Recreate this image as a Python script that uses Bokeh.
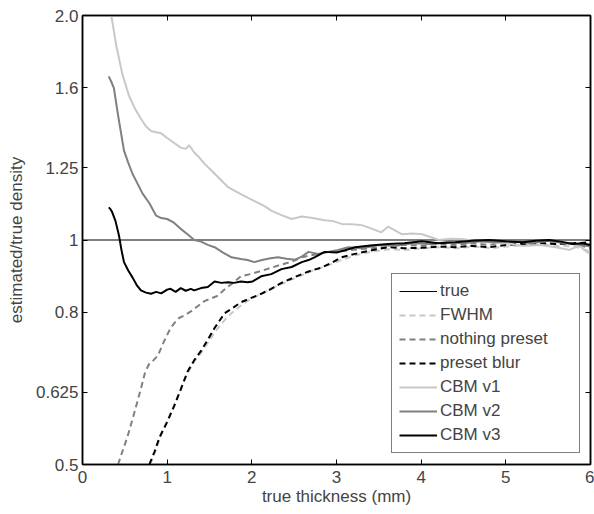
from bokeh.plotting import figure
from bokeh.models import (FixedTicker, LinearAxis, LogAxis, Legend, LegendItem, Range1d)
from bokeh.embed import file_html
from bokeh.resources import INLINE

# ---------------- data ----------------
y_ticks = [0.5, 0.625, 0.8, 1, 1.25, 1.6, 2.0]
y_tick_labels = ["0.5", "0.625", "0.8", "1", "1.25", "1.6", "2.0"]
x_ticks = [0, 1, 2, 3, 4, 5, 6]

true_x = [0, 6]
true_y = [1, 1]

fwhm_x = [0.80, 0.86, 0.92, 1.00, 1.08, 1.16, 1.24, 1.32, 1.40, 1.48, 1.56, 1.64, 1.72, 1.80, 1.90, 2.00,
          2.12, 2.24, 2.36, 2.48, 2.60, 2.72, 2.84, 2.96, 3.08, 3.24, 3.42, 3.62, 3.82, 4.02, 4.22, 4.42,
          4.62, 4.82, 5.02, 5.22, 5.42, 5.62, 5.82, 6.0]
fwhm_y = [0.50, 0.52, 0.545, 0.572, 0.60, 0.632, 0.662, 0.688, 0.705, 0.728, 0.752, 0.772, 0.79, 0.805,
          0.822, 0.835, 0.848, 0.862, 0.874, 0.886, 0.898, 0.91, 0.92, 0.93, 0.942, 0.955, 0.965, 0.972,
          0.97, 0.975, 0.978, 0.975, 0.98, 0.975, 0.98, 0.985, 0.985, 0.982, 0.98, 0.965]

nothing_x = [0.42, 0.47, 0.53, 0.60, 0.69, 0.74, 0.79, 0.84, 0.89, 0.96, 1.04, 1.09, 1.14, 1.20, 1.28, 1.36,
             1.44, 1.52, 1.60, 1.66, 1.72, 1.80, 1.87, 1.98, 2.11, 2.23, 2.35, 2.47, 2.59, 2.72, 2.86, 3.00,
             3.20, 3.40, 3.60, 3.80, 4.00, 4.20, 4.40, 4.60, 4.80, 5.00, 5.20, 5.40, 5.60, 5.80, 6.0]
nothing_y = [0.50, 0.52, 0.544, 0.58, 0.632, 0.665, 0.683, 0.69, 0.70, 0.73, 0.762, 0.775, 0.786, 0.792,
             0.802, 0.815, 0.828, 0.835, 0.842, 0.855, 0.866, 0.88, 0.894, 0.90, 0.909, 0.918, 0.927, 0.935,
             0.948, 0.955, 0.962, 0.965, 0.97, 0.975, 0.978, 0.985, 0.982, 0.988, 0.985, 0.99, 0.985, 0.995,
             0.99, 0.995, 0.988, 0.99, 0.975]

blur_x = [0.79, 0.85, 0.91, 1.00, 1.08, 1.16, 1.24, 1.32, 1.40, 1.48, 1.56, 1.62, 1.68, 1.77, 1.87, 1.98,
          2.11, 2.23, 2.35, 2.47, 2.59, 2.70, 2.82, 2.94, 3.06, 3.22, 3.40, 3.61, 3.80, 4.01, 4.20, 4.40,
          4.60, 4.80, 5.00, 5.20, 5.40, 5.60, 5.80, 6.0]
blur_y = [0.50, 0.52, 0.544, 0.57, 0.598, 0.63, 0.666, 0.69, 0.71, 0.735, 0.762, 0.78, 0.798, 0.81, 0.825,
          0.835, 0.847, 0.86, 0.876, 0.888, 0.90, 0.91, 0.918, 0.932, 0.948, 0.958, 0.968, 0.978, 0.975,
          0.976, 0.98, 0.978, 0.982, 0.978, 0.985, 0.988, 0.99, 0.988, 0.99, 0.993]

v1_x = [0.34, 0.40, 0.47, 0.55, 0.62, 0.69, 0.75, 0.81, 0.87, 0.93, 1.00, 1.08, 1.16, 1.22, 1.26, 1.32, 1.38,
        1.44, 1.52, 1.60, 1.72, 1.82, 1.95, 2.05, 2.15, 2.23, 2.35, 2.47, 2.59, 2.72, 2.86, 2.96, 3.06, 3.18,
        3.30, 3.42, 3.53, 3.61, 3.69, 3.77, 3.90, 4.01, 4.10, 4.21, 4.35, 4.48, 4.62, 4.80, 5.00, 5.20, 5.40,
        5.59, 5.75, 5.87, 5.95, 6.0]
v1_y = [2.0, 1.82, 1.67, 1.56, 1.50, 1.454, 1.42, 1.40, 1.395, 1.39, 1.37, 1.35, 1.33, 1.325, 1.34, 1.31,
        1.29, 1.266, 1.24, 1.215, 1.177, 1.16, 1.14, 1.125, 1.11, 1.095, 1.08, 1.067, 1.075, 1.07, 1.063, 1.06,
        1.051, 1.05, 1.047, 1.035, 1.024, 1.042, 1.03, 1.018, 1.02, 1.018, 1.01, 1.0, 1.004, 1.003, 0.998,
        0.993, 0.99, 0.982, 0.985, 0.978, 0.97, 0.982, 0.965, 0.958]

v2_x = [0.31, 0.34, 0.37, 0.42, 0.49, 0.54, 0.59, 0.65, 0.71, 0.79, 0.87, 0.93, 1.00, 1.08, 1.16, 1.24, 1.32,
        1.40, 1.48, 1.56, 1.66, 1.76, 1.87, 1.95, 2.03, 2.12, 2.22, 2.31, 2.41, 2.51, 2.59, 2.67, 2.78, 2.90,
        3.02, 3.14, 3.30, 3.50, 3.70, 3.90, 4.10, 4.30, 4.50, 4.70, 4.90, 5.10, 5.30, 5.50, 5.70, 5.90, 6.0]
v2_y = [1.657, 1.63, 1.60, 1.47, 1.318, 1.27, 1.227, 1.19, 1.154, 1.12, 1.078, 1.07, 1.067, 1.055, 1.035,
        1.018, 1.0, 0.995, 0.985, 0.978, 0.962, 0.948, 0.943, 0.94, 0.934, 0.94, 0.945, 0.948, 0.944, 0.941,
        0.95, 0.964, 0.958, 0.964, 0.97, 0.978, 0.975, 0.985, 0.982, 0.99, 0.988, 0.993, 0.99, 0.996, 0.993,
        0.996, 0.99, 0.998, 0.99, 0.985, 0.98]

v3_x = [0.31, 0.33, 0.35, 0.39, 0.43, 0.46, 0.49, 0.54, 0.59, 0.64, 0.69, 0.75, 0.81, 0.87, 0.93, 1.00, 1.04,
        1.10, 1.16, 1.22, 1.28, 1.32, 1.40, 1.48, 1.56, 1.64, 1.72, 1.79, 1.87, 1.95, 2.01, 2.11, 2.23, 2.35,
        2.47, 2.59, 2.67, 2.74, 2.86, 3.00, 3.10, 3.22, 3.40, 3.61, 3.80, 4.01, 4.20, 4.40, 4.60, 4.80, 5.00,
        5.20, 5.35, 5.51, 5.65, 5.79, 5.90, 6.0]
v3_y = [1.106, 1.10, 1.09, 1.06, 1.015, 0.97, 0.934, 0.91, 0.891, 0.87, 0.856, 0.85, 0.847, 0.852, 0.848,
        0.858, 0.86, 0.852, 0.862, 0.855, 0.86, 0.856, 0.862, 0.865, 0.88, 0.876, 0.878, 0.876, 0.88, 0.878,
        0.88, 0.894, 0.90, 0.914, 0.92, 0.934, 0.94, 0.948, 0.964, 0.962, 0.969, 0.978, 0.983, 0.988, 0.99,
        0.996, 0.99, 0.993, 0.998, 1.0, 0.996, 0.993, 0.998, 1.0, 0.995, 0.988, 0.99, 0.985]

# ---------------- figure ----------------
FONT = "Liberation Sans"
FS = "17px"
LIGHT = "#c8c8c8"
MID = "#808080"

p = figure(width=594, height=514, y_axis_type="log",
           x_range=Range1d(0, 6), y_range=Range1d(0.5, 2.0),
           output_backend="svg", toolbar_location=None,
           min_border_left=82, min_border_right=4, min_border_top=15, min_border_bottom=50)
p.xgrid.visible = False
p.ygrid.visible = False
p.outline_line_color = "black"
p.outline_line_width = 1.5
p.background_fill_color = "white"
p.border_fill_color = "white"

label_over = {v: s for v, s in zip(y_ticks, y_tick_labels)}

for ax in p.xaxis:
    ax.ticker = FixedTicker(ticks=x_ticks)
    ax.axis_label = "true thickness (mm)"
    ax.major_label_standoff = 6
    ax.axis_label_standoff = 1
for ax in p.yaxis:
    ax.ticker = FixedTicker(ticks=y_ticks)
    ax.major_label_overrides = label_over
    ax.axis_label = "estimated/true density"
    ax.major_label_standoff = 4
    ax.axis_label_standoff = 7

for ax in list(p.xaxis) + list(p.yaxis):
    ax.axis_label_text_font = FONT
    ax.axis_label_text_font_size = FS
    ax.axis_label_text_font_style = "normal"
    ax.major_label_text_font = FONT
    ax.major_label_text_font_size = FS
    ax.major_tick_in = 5
    ax.major_tick_out = 0
    ax.minor_tick_line_color = None
    ax.axis_line_color = "black"
    ax.axis_line_width = 1.5
    ax.major_tick_line_color = "black"

top_ax = LinearAxis(ticker=FixedTicker(ticks=x_ticks),
                    major_label_overrides={t: "" for t in x_ticks},
                    major_tick_in=5, major_tick_out=0, minor_tick_line_color=None,
                    major_label_standoff=0, axis_line_width=1.5)
right_ax = LogAxis(ticker=FixedTicker(ticks=y_ticks),
                   major_label_overrides={t: "" for t in y_ticks},
                   major_tick_in=5, major_tick_out=0, minor_tick_line_color=None,
                   major_label_standoff=0, axis_line_width=1.5)
p.add_layout(top_ax, "above")
p.add_layout(right_ax, "right")

r_true = p.line(true_x, true_y, line_color="black", line_width=1)
r_fwhm = p.line(fwhm_x, fwhm_y, line_color=LIGHT, line_width=2, line_dash="6 4")
r_noth = p.line(nothing_x, nothing_y, line_color=MID, line_width=2, line_dash="6 4")
r_blur = p.line(blur_x, blur_y, line_color="black", line_width=2, line_dash="6 4")
r_v1 = p.line(v1_x, v1_y, line_color=LIGHT, line_width=2)
r_v2 = p.line(v2_x, v2_y, line_color=MID, line_width=2)
r_v3 = p.line(v3_x, v3_y, line_color="black", line_width=2)

legend = Legend(items=[
    LegendItem(label="true", renderers=[r_true]),
    LegendItem(label="FWHM", renderers=[r_fwhm]),
    LegendItem(label="nothing preset", renderers=[r_noth]),
    LegendItem(label="preset blur", renderers=[r_blur]),
    LegendItem(label="CBM v1", renderers=[r_v1]),
    LegendItem(label="CBM v2", renderers=[r_v2]),
    LegendItem(label="CBM v3", renderers=[r_v3]),
], location=(309, 11))
legend.label_text_font = FONT
legend.label_text_font_size = FS
legend.label_height = 20
legend.glyph_height = 20
legend.glyph_width = 38
legend.label_width = 132
legend.spacing = 4
legend.padding = 7
legend.margin = 0
legend.label_standoff = 3
legend.border_line_color = "black"
legend.border_line_width = 1
legend.background_fill_alpha = 1
p.add_layout(legend, "center")

open("out.html", "w").write(file_html(p, INLINE))
